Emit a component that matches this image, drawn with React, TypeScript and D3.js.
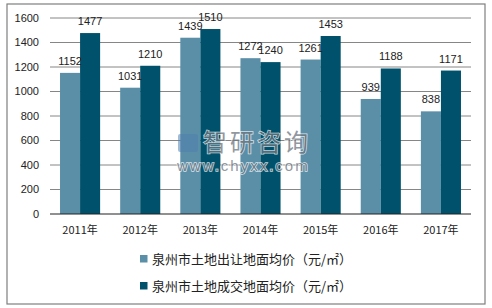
import React from "react";
import * as d3 from "d3";

const categories = ["2011年", "2012年", "2013年", "2014年", "2015年", "2016年", "2017年"];
const grantPrice = [1152, 1031, 1439, 1272, 1261, 939, 838];
const dealPrice = [1477, 1210, 1510, 1240, 1453, 1188, 1171];
const seriesNames = ["泉州市土地出让地面均价（元/㎡）", "泉州市土地成交地面均价（元/㎡）"];
const yTicks = [0, 200, 400, 600, 800, 1000, 1200, 1400, 1600];

const colors = ["#5b8fa8", "#00516b"];
const numFont = "'Liberation Sans', 'DejaVu Sans', sans-serif";
const cjkFont = "'Noto Sans CJK SC', 'Liberation Sans', sans-serif";

export default function App() {
  const W = 492, H = 308;
  const left = 50, right = 471, top = 18, bottom = 214;
  const x = d3.scaleBand<string>().domain(categories).range([left, right]).paddingInner(0).paddingOuter(0);
  const y = d3.scaleLinear().domain([0, 1600]).range([bottom, top]);
  const bw = x.bandwidth();
  const barW = bw / 3;
  const series = [grantPrice, dealPrice];

  return (
    <svg width={W} height={H} style={{ position: "absolute", left: 0, top: 0, background: "#fff" }}>
      <rect x={7} y={4} width={478} height={300} fill="#fff" stroke="#7f7f7f" strokeWidth={1.2} />
      {yTicks.map((t) => (
        <g key={t}>
          {t > 0 && <line x1={left} x2={right} y1={y(t)} y2={y(t)} stroke="#868686" strokeWidth={1} />}
          <text x={39} y={y(t)} dy="0.35em" textAnchor="end" fontSize={11} fontFamily={numFont} fill="#222">{t}</text>
        </g>
      ))}
      {series.map((vals, si) =>
        vals.map((v, i) => {
          const bx = (x(categories[i]) as number) + bw / 6 + si * barW;
          return (
            <rect key={`${si}-${i}`} x={bx} y={y(v)} width={barW} height={bottom - y(v)} fill={colors[si]} />
          );
        })
      )}
      <line x1={left} x2={right} y1={bottom} y2={bottom} stroke="#222" strokeWidth={1.2} />
      {series.map((vals, si) =>
        vals.map((v, i) => {
          const cx = (x(categories[i]) as number) + bw / 6 + si * barW + barW / 2;
          return (
            <text key={`l${si}-${i}`} x={cx} y={y(v) - 8} textAnchor="middle" fontSize={11} fontFamily={numFont} fill="#222">{v}</text>
          );
        })
      )}
      {categories.map((c) => (
        <text key={c} x={(x(c) as number) + bw / 2} y={234} textAnchor="middle" fontSize={11} fontFamily={cjkFont} fill="#222">{c}</text>
      ))}
      <g opacity={0.75}>
        <rect x={178} y={134} width={20} height={18} rx={2} fill="#4f7fb0" opacity={0.7} />
        <text x={203} y={151} fontSize={24} fontFamily={cjkFont} fill="#6e7680" stroke="#fff" strokeWidth={1.5} paintOrder="stroke" letterSpacing={3}>智研咨询</text>
        <text x={177} y={171} fontSize={15} fontFamily={numFont} fill="#6e7680" stroke="#fff" strokeWidth={1.5} paintOrder="stroke" letterSpacing={2}>www.chyxx.com</text>
      </g>
      {seriesNames.map((n, i) => (
        <g key={n}>
          <rect x={140} y={255 + i * 27} width={7.5} height={7.5} fill={colors[i]} />
          <text x={152} y={259 + i * 27} dy="0.35em" fontSize={13} fontFamily={cjkFont} fill="#222">{n}</text>
        </g>
      ))}
    </svg>
  );
}
